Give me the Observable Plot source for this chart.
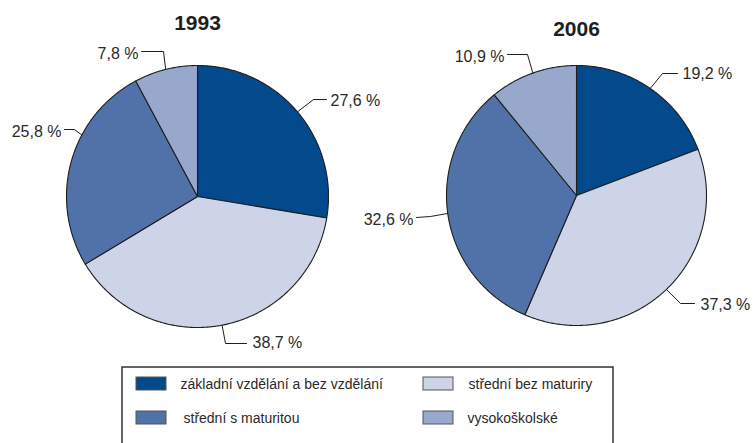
<!DOCTYPE html>
<html>
<head>
<meta charset="utf-8">
<script src="https://cdn.jsdelivr.net/npm/d3@7"></script>
<script src="https://cdn.jsdelivr.net/npm/@observablehq/plot@0.6"></script>
<style>
  html, body { margin: 0; padding: 0; background: #fff; }
  #chart svg { display: block; font-family: "Liberation Sans", Arial, sans-serif; }
</style>
</head>
<body>
<div id="chart"></div>
<script>
// ---- data ----
const categories = ["základní vzdělání a bez vzdělání", "střední bez maturiry", "střední s maturitou", "vysokoškolské"];
const years = ["1993", "2006"];
const values1993 = [27.6, 38.7, 25.8, 7.8];
const values2006 = [19.2, 37.3, 32.6, 10.9];
const colors = ["#034a8c", "#cdd4e8", "#5172a9", "#97a8cc"];

// ---- layout (pixel space) ----
const W = 754, H = 443;
const pies = [
  {year: years[0], values: values1993, cx: 197, cy: 196, r: 131, titleY: 29},
  {year: years[1], values: values2006, cx: 576, cy: 195, r: 130, titleY: 35}
];
// per label: anchor angle override (deg, null = slice mid-angle), elbow, line end, text pos, anchor
const labelLayout = [
  [ // 1993
    {ang: null, elbow: [313, 99], end: [326, 99], tx: 330, ty: 105, anchor: "start"},
    {ang: null, elbow: [225, 343], end: [246, 343], tx: 252, ty: 347, anchor: "start"},
    {ang: 298, elbow: [74, 129], end: [64, 129], tx: 61, ty: 136, anchor: "end"},
    {ang: null, elbow: [163, 51], end: [141, 51], tx: 138, ty: 58, anchor: "end"}
  ],
  [ // 2006
    {ang: null, elbow: [662, 73], end: [677, 73], tx: 682, ty: 78, anchor: "start"},
    {ang: null, elbow: [680, 303], end: [694, 303], tx: 700, ty: 309, anchor: "start"},
    {ang: null, elbow: [430, 216], end: [416, 217], tx: 413, ty: 224, anchor: "end"},
    {ang: null, elbow: [527, 54], end: [507, 54], tx: 504, ty: 61, anchor: "end"}
  ]
];

const fmt = v => d3.format(".1f")(v).replace(".", ",") + " %";
const rad = a => a * Math.PI / 180;

const slicePts = [];
const leaderPts = [];
const labels = [];
pies.forEach((p, pi) => {
  const total = d3.sum(p.values);
  let cum = 0;
  p.values.forEach((v, i) => {
    const a0 = cum / total * 360;
    cum += v;
    const a1 = cum / total * 360;
    const key = p.year + "-" + i;
    slicePts.push({key, cat: categories[i], x: p.cx, y: p.cy});
    const n = Math.max(2, Math.ceil((a1 - a0) / 0.5));
    for (let k = 0; k <= n; k++) {
      const a = rad(a0 + (a1 - a0) * k / n);
      slicePts.push({key, cat: categories[i], x: p.cx + p.r * Math.sin(a), y: p.cy - p.r * Math.cos(a)});
    }
    slicePts.push({key, cat: categories[i], x: p.cx, y: p.cy});
    const L = labelLayout[pi][i];
    const am = rad(L.ang ?? (a0 + a1) / 2);
    leaderPts.push({key, x: p.cx + p.r * Math.sin(am), y: p.cy - p.r * Math.cos(am)});
    leaderPts.push({key, x: L.elbow[0], y: L.elbow[1]});
    leaderPts.push({key, x: L.end[0], y: L.end[1]});
    labels.push({x: L.tx, y: L.ty, text: fmt(v), anchor: L.anchor});
  });
});

const legendBox = {x1: 122, y1: 367, x2: 613, y2: 447};
const legendPos = [
  {sx: 136, sy: 377, tx: 180, ty: 388},
  {sx: 423, sy: 377, tx: 468, ty: 388},
  {sx: 136, sy: 411, tx: 183, ty: 422},
  {sx: 423, sy: 411, tx: 467, ty: 422}
];
const legendItems = categories.map((c, i) => ({cat: c, ...legendPos[i]}));

const labelStyle = {x: "x", y: "y", text: "text", lineAnchor: "bottom", fontSize: 16, fill: "#2a2a2a"};

const chart = Plot.plot({
  width: W, height: H,
  margin: 0,
  x: {domain: [0, W], range: [0, W], axis: null},
  y: {domain: [0, H], range: [0, H], axis: null},
  color: {domain: categories, range: colors},
  style: {fontFamily: "'Liberation Sans', Arial, sans-serif", background: "#fff"},
  marks: [
    Plot.line(slicePts, {x: "x", y: "y", z: "key", fill: "cat", stroke: "#1e1e1e", strokeWidth: 1.1, curve: "linear", strokeLinejoin: "round"}),
    Plot.line(leaderPts, {x: "x", y: "y", z: "key", stroke: "#1e1e1e", strokeWidth: 1, curve: "linear"}),
    Plot.text(labels.filter(d => d.anchor === "start"), {...labelStyle, textAnchor: "start"}),
    Plot.text(labels.filter(d => d.anchor === "end"), {...labelStyle, textAnchor: "end"}),
    Plot.text(pies, {x: "cx", y: "titleY", text: "year", lineAnchor: "bottom", fontSize: 21, fontWeight: "bold", fill: "#1e1e1e"}),
    Plot.rect([legendBox], {x1: "x1", y1: "y1", x2: "x2", y2: "y2", fill: "none", stroke: "#333", strokeWidth: 1.5}),
    Plot.rect(legendItems, {x1: "sx", y1: "sy", x2: d => d.sx + 30, y2: d => d.sy + 13, fill: "cat", stroke: "#555", strokeWidth: 1}),
    Plot.text(legendItems, {x: "tx", y: "ty", text: "cat", textAnchor: "start", lineAnchor: "bottom", fontSize: 14, fill: "#2a2a2a"})
  ]
});
document.getElementById("chart").append(chart);
</script>
</body>
</html>
